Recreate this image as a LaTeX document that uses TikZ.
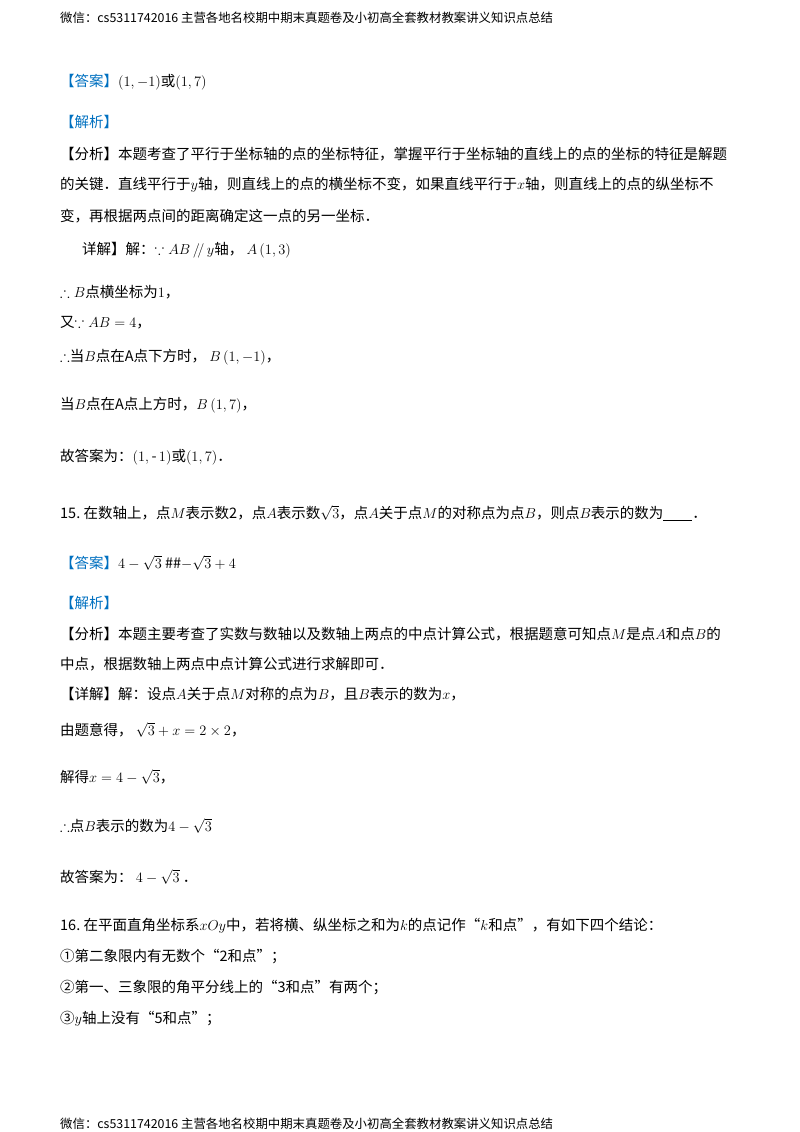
\documentclass[tikz,border=0pt]{standalone}
\usepackage{amsmath,amssymb}
\usepackage{fontspec}
\newfontfamily\cjk{Noto Sans CJK SC}
\definecolor{ansblue}{RGB}{0,112,192}
\begin{document}
\begin{tikzpicture}[x=1pt,y=-1pt,
  t/.style={anchor=west,inner sep=0pt,font=\cjk\fontsize{14.5}{16}\selectfont},
  hd/.style={anchor=west,inner sep=0pt,font=\cjk\fontsize{12.4}{14}\selectfont}]
\useasboundingbox (0,0) rectangle (800,1132);
\node[hd] (h) at (60,18) {微信：cs5311742016\ 主营各地名校期中期末真题卷及小初高全套教材教案讲义知识点总结};
\node[t] (a1) at (60,82) {\textcolor{ansblue}{【答案】}$\left(1,-1\right)$或$\left(1,7\right)$};
\node[t] (a2) at (60,122) {\textcolor{ansblue}{【解析】}};
\node[t] (a3) at (60,154) {【分析】本题考查了平行于坐标轴的点的坐标特征，掌握平行于坐标轴的直线上的点的坐标的特征是解题};
\node[t] (a4) at (60,185) {的关键．直线平行于$y$轴，则直线上的点的横坐标不变，如果直线平行于$x$轴，则直线上的点的纵坐标不};
\node[t] (a5) at (60,216) {变，再根据两点间的距离确定这一点的另一坐标．};
\node[t] (a6) at (82,250) {详解】解：$\because AB\,/\!/\,y$轴，\ $A\left(1,3\right)$};
\node[t] (a7) at (60,292) {$\therefore B$点横坐标为$1$，};
\node[t] (a8) at (60,323) {又$\because AB=4$，};
\node[t] (a9) at (60,357) {$\therefore$当$B$点在A点下方时，\ $B\left(1,-1\right)$，};
\node[t] (a10) at (60,405) {当$B$点在A点上方时，$B\left(1,7\right)$，};
\node[t] (a11) at (60,457) {故答案为：$\left(1,\text{-}\,1\right)$或$\left(1,7\right)$．};
\node[t] (b1) at (60,513) {15.\ 在数轴上，点$M$表示数2，点$A$表示数$\sqrt{3}$，点$A$关于点$M$的对称点为点$B$，则点$B$表示的数为\underline{\hspace{2em}}．};
\node[t] (b2) at (60,563) {\textcolor{ansblue}{【答案】}$4-\sqrt{3}$\ \#\#$-\sqrt{3}+4$};
\node[t] (b3) at (60,603) {\textcolor{ansblue}{【解析】}};
\node[t] (b4) at (60,634) {【分析】本题主要考查了实数与数轴以及数轴上两点的中点计算公式，根据题意可知点$M$是点$A$和点$B$的};
\node[t] (b5) at (60,664) {中点，根据数轴上两点中点计算公式进行求解即可．};
\node[t] (b6) at (60,694) {【详解】解：设点$A$关于点$M$对称的点为$B$，且$B$表示的数为$x$，};
\node[t] (b7) at (60,730) {由题意得，\ $\sqrt{3}+x=2\times2$，};
\node[t] (b8) at (60,777) {解得$x=4-\sqrt{3}$，};
\node[t] (b9) at (60,826) {$\therefore$点$B$表示的数为$4-\sqrt{3}$};
\node[t] (b10) at (60,877) {故答案为：\ $4-\sqrt{3}$\ ．};
\node[t] (c1) at (60,926) {16.\ 在平面直角坐标系$xOy$中，若将横、纵坐标之和为$k$的点记作“$k$和点”，有如下四个结论：};
\node[t] (c2) at (60,957) {①第二象限内有无数个“2和点”；};
\node[t] (c3) at (60,988) {②第一、三象限的角平分线上的“3和点”有两个；};
\node[t] (c4) at (60,1019) {③$y$轴上没有“5和点”；};
\node[hd] (f) at (60,1124) {微信：cs5311742016\ 主营各地名校期中期末真题卷及小初高全套教材教案讲义知识点总结};
\end{tikzpicture}
\end{document}
